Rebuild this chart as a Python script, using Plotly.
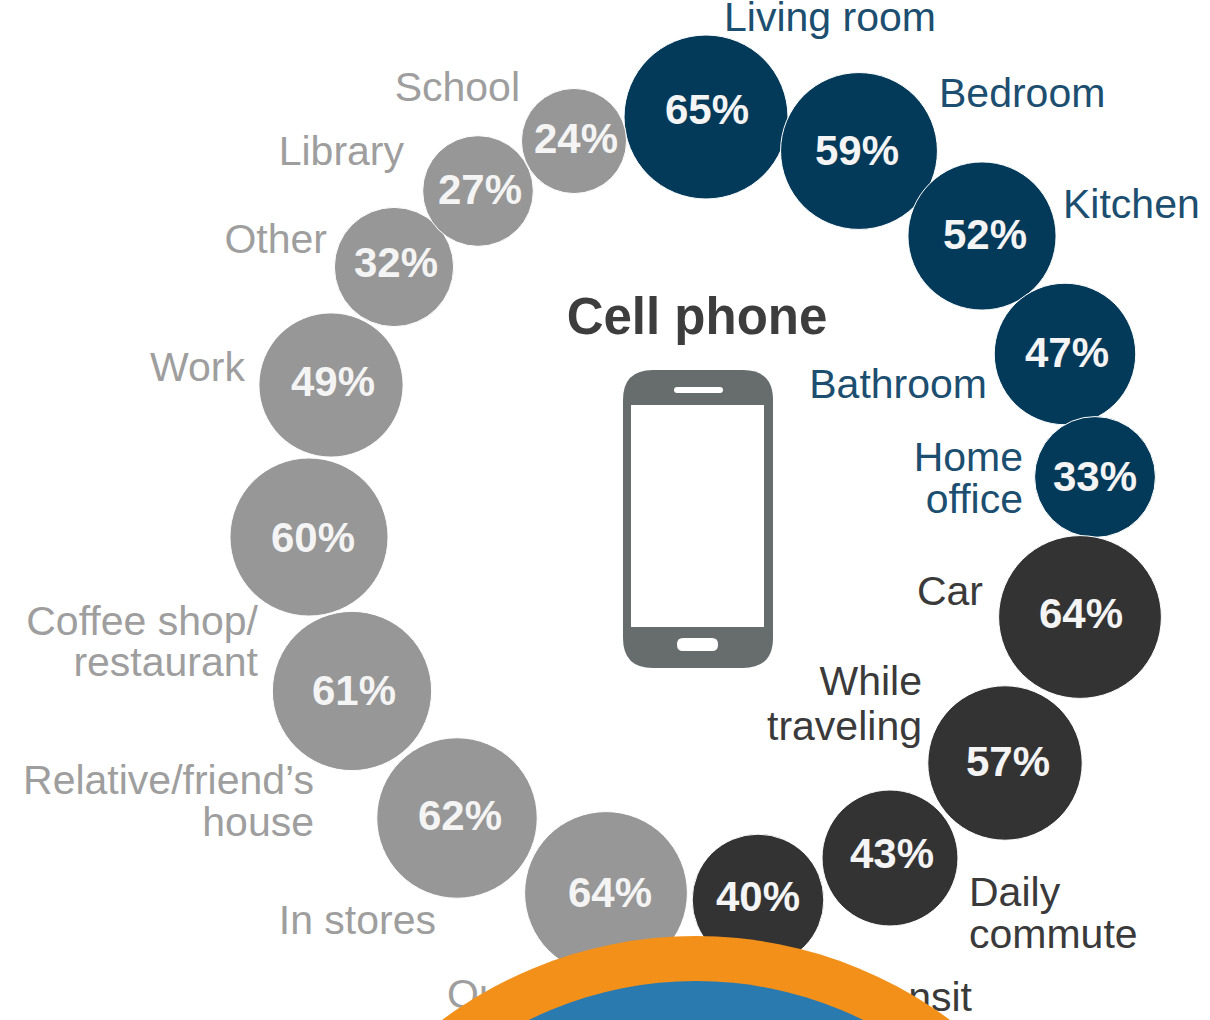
import plotly.graph_objects as go

# Share of use by location, one bubble per place, clockwise from the top
places = ["Living room", "Bedroom", "Kitchen", "Bathroom", "Home office", "Car",
          "While traveling", "Daily commute", "Mass transit", "Outdoors", "In stores",
          "Relative/friend's house", "Coffee shop/restaurant", "Work",
          "Other", "Library", "School"]
shares = [65, 59, 52, 47, 33, 64, 57, 43, 40, 64, 62, 61, 60, 49, 32, 27, 24]
groups = ["home"] * 5 + ["transit"] * 4 + ["out"] * 8

bubble_x = [706, 859, 982, 1065, 1095, 1080, 1005, 890, 758, 606, 457, 352, 309, 331, 394, 478, 574]
bubble_y = [117, 151, 236, 354, 477, 617, 763, 858, 900, 893, 818, 691, 537, 385, 267, 191, 141]
value_x = [707, 857, 985, 1067, 1095, 1081, 1008, 892, 758, 610, 460, 354, 313, 333, 396, 480, 576]
value_y = [113, 154, 238, 356, 480, 617, 765, 857, 900, 896, 819, 694, 541, 385, 266, 193, 142]

# Place names, broken into single lines so the leading can be set per line
right_labels = ["School", "Library", "Other", "Work", "Coffee shop/", "restaurant",
                "Relative/friend\u2019s", "house", "In stores", "Bathroom", "Home", "office",
                "Car", "While", "traveling", "Mass transit"]
right_x = [520, 404, 327, 245, 258, 258, 314, 314, 436, 987, 1023, 1023, 983, 922, 922, 972]
right_y = [91, 155, 243, 371, 625, 666, 784, 826, 924, 388, 461, 503, 595, 685, 730, 1001]
right_colors = ["#9e9e9e"] * 9 + ["#1c4e70"] * 3 + ["#3a3a3a"] * 4

left_labels = ["Living room", "Bedroom", "Kitchen", "Daily", "commute", "Outdoors"]
left_x = [724, 939, 1063, 969, 969, 447]
left_y = [21, 97, 208, 896, 938, 998]
left_colors = ["#1c4e70"] * 3 + ["#3a3a3a"] * 2 + ["#9e9e9e"]

GROUP_COLORS = {"home": "#033a5a", "transit": "#333333", "out": "#979797"}
FONT = "Liberation Sans, Arial, sans-serif"


def diameter(share):
    return 14 + 18.6 * share ** 0.5


fig = go.Figure()
fig.add_trace(go.Scatter(
    x=bubble_x, y=bubble_y, mode="markers", hoverinfo="skip", name="Share of use",
    customdata=places,
    marker=dict(size=[diameter(s) for s in shares], opacity=1,
                color=[GROUP_COLORS[g] for g in groups],
                line=dict(color="white", width=1)),
))
fig.add_trace(go.Scatter(
    x=value_x, y=value_y, mode="text", hoverinfo="skip",
    text=[f"{s}%" for s in shares], textposition="middle center",
    textfont=dict(family=FONT, size=42, color="#f4f4f4", weight="bold"),
))
fig.add_trace(go.Scatter(
    x=right_x, y=right_y, mode="text", hoverinfo="skip",
    text=right_labels, textposition="middle left",
    textfont=dict(family=FONT, size=41, color=right_colors),
))
fig.add_trace(go.Scatter(
    x=left_x, y=left_y, mode="text", hoverinfo="skip",
    text=left_labels, textposition="middle right",
    textfont=dict(family=FONT, size=41, color=left_colors),
))
fig.add_trace(go.Scatter(
    x=[697], y=[321], mode="text", hoverinfo="skip",
    text=["Cell phone"], textposition="middle center",
    textfont=dict(family=FONT, size=51, color="#3d3d3d", weight="bold"),
))


def rounded(x0, y0, x1, y1, r):
    return (f"M{x0 + r},{y0} L{x1 - r},{y0} Q{x1},{y0} {x1},{y0 + r} L{x1},{y1 - r} "
            f"Q{x1},{y1} {x1 - r},{y1} L{x0 + r},{y1} Q{x0},{y1} {x0},{y1 - r} "
            f"L{x0},{y0 + r} Q{x0},{y0} {x0 + r},{y0} Z")


phone_gray = "#676c6c"
shapes = [
    # handset outline, screen, speaker slot, home button
    dict(type="path", path=rounded(623, 370, 773, 668, 30), fillcolor=phone_gray, line_width=0, layer="above"),
    dict(type="rect", x0=631, y0=405, x1=764, y1=627, fillcolor="white", line_width=0, layer="above"),
    dict(type="path", path=rounded(674, 387, 723, 393, 3), fillcolor="white", line_width=0, layer="above"),
    dict(type="path", path=rounded(677, 638, 718, 651, 6), fillcolor="white", line_width=0, layer="above"),
    # concentric disc rising from the bottom edge
    dict(type="circle", x0=696 - 426, x1=696 + 426, y0=936, y1=936 + 852,
         fillcolor="#f39019", line_width=0, layer="above"),
    dict(type="circle", x0=696 - 378, x1=696 + 378, y0=981, y1=981 + 756,
         fillcolor="#2a7ab0", line_width=0, layer="above"),
]

fig.update_layout(
    width=1210, height=1020, margin=dict(l=0, r=0, t=0, b=0),
    paper_bgcolor="white", plot_bgcolor="white", showlegend=False, shapes=shapes,
    xaxis=dict(range=[0, 1210], visible=False, fixedrange=True),
    yaxis=dict(range=[1020, 0], visible=False, fixedrange=True),
)
fig.write_html("out.html", config={"displayModeBar": False})
